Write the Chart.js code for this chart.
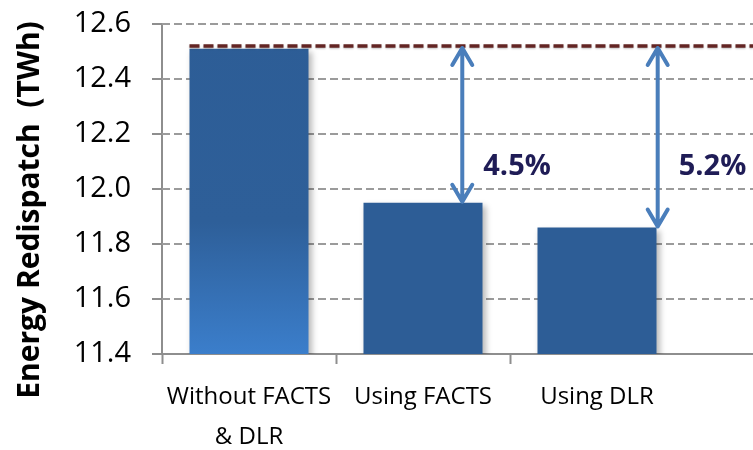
<!DOCTYPE html>
<html><head><meta charset="utf-8">
<script src="https://cdn.jsdelivr.net/npm/chart.js@4"></script>
<style>html,body{margin:0;padding:0;background:#fff;overflow:hidden}</style>
</head><body>
<canvas id="c" width="753" height="450"></canvas>
<script>
// ---- data ----
const categories = [['Without FACTS', '& DLR'], 'Using FACTS', 'Using DLR'];
const energyTWh = [12.51, 11.95, 11.86];
const referenceTWh = 12.52;
const reductionLabels = ['', '4.5%', '5.2%'];
const yMin = 11.4, yMax = 12.6, yStep = 0.2;
const yAxisTitle = 'Energy Redispatch  (TWh)';

// ---- styles ----
const GRID = '#9b9b9b', AXIS = '#8e8e8e';
const FONT = '"Open Sans", "Noto Sans", sans-serif';

const extendGrid = {
  id: 'extendGrid',
  beforeDatasetsDraw(chart) {
    const { ctx, chartArea: a, scales: { y } } = chart;
    ctx.save();
    ctx.strokeStyle = GRID; ctx.lineWidth = 2; ctx.setLineDash([7, 5]);
    y.ticks.forEach(t => {
      if (t.value <= yMin) return;
      const py = Math.round(y.getPixelForValue(t.value));
      ctx.beginPath(); ctx.moveTo(a.left, py); ctx.lineTo(chart.width, py); ctx.stroke();
    });
    ctx.setLineDash([]); ctx.strokeStyle = AXIS;
    const pb = Math.round(a.bottom);
    ctx.beginPath(); ctx.moveTo(a.left, pb); ctx.lineTo(chart.width, pb); ctx.stroke();
    ctx.restore();
  }
};

const barShadow = {
  id: 'barShadow',
  beforeDatasetDraw(chart) {
    const ctx = chart.ctx; ctx.save();
    ctx.shadowColor = 'rgba(0,0,0,0.28)'; ctx.shadowBlur = 6; ctx.shadowOffsetX = 3; ctx.shadowOffsetY = 3;
  },
  afterDatasetDraw(chart) { chart.ctx.restore(); }
};

const annotations = {
  id: 'annotations',
  afterDatasetsDraw(chart, args, opts) {
    const { ctx, scales: { y } } = chart;
    const meta = chart.getDatasetMeta(0);
    const yRef = y.getPixelForValue(referenceTWh);
    const first = meta.data[0];
    ctx.save();
    ctx.strokeStyle = '#632523'; ctx.lineWidth = 3.5; ctx.setLineDash([10, 4]);
    ctx.shadowColor = 'rgba(0,0,0,0.25)'; ctx.shadowBlur = 2; ctx.shadowOffsetY = 1;
    ctx.beginPath(); ctx.moveTo(first.x - first.width / 2, yRef); ctx.lineTo(chart.width, yRef); ctx.stroke();
    ctx.restore();
    const labelY = y.getPixelForValue(opts.labelValue);
    energyTWh.forEach((v, i) => {
      if (!reductionLabels[i]) return;
      const bar = meta.data[i];
      const ax = bar.x + opts.arrowShift[i] * bar.width;
      const top = yRef + 2, bot = bar.y - 1;
      ctx.save();
      ctx.strokeStyle = '#4a7ebb'; ctx.lineWidth = 4; ctx.lineCap = 'round'; ctx.lineJoin = 'round';
      ctx.beginPath();
      ctx.moveTo(ax, top); ctx.lineTo(ax, bot);
      ctx.moveTo(ax - 10, top + 17); ctx.lineTo(ax, top); ctx.lineTo(ax + 10, top + 17);
      ctx.moveTo(ax - 10, bot - 17); ctx.lineTo(ax, bot); ctx.lineTo(ax + 10, bot - 17);
      ctx.stroke();
      ctx.restore();
      ctx.save();
      ctx.fillStyle = '#1f1c56'; ctx.font = 'bold 29px ' + FONT;
      ctx.textAlign = 'left'; ctx.textBaseline = 'middle';
      ctx.fillText(reductionLabels[i], ax + 21, labelY);
      ctx.restore();
    });
    // y axis title
    const a = chart.chartArea;
    ctx.save();
    ctx.translate(30, (a.top + a.bottom) / 2 + 21);
    ctx.rotate(-Math.PI / 2);
    ctx.fillStyle = '#000'; ctx.font = 'bold 30px ' + FONT;
    ctx.textAlign = 'center'; ctx.textBaseline = 'middle';
    ctx.fillText(yAxisTitle, 0, 0);
    ctx.restore();
  }
};

function barColor(c) {
  const chart = c.chart, a = chart.chartArea;
  if (c.dataIndex === 0 && a) {
    const g = chart.ctx.createLinearGradient(0, a.top, 0, a.bottom);
    g.addColorStop(0, '#2d5d96');
    g.addColorStop(0.6, '#2e5f99');
    g.addColorStop(1, '#3b7ecb');
    return g;
  }
  return '#2d5d96';
}

new Chart(document.getElementById('c'), {
  type: 'bar',
  data: {
    labels: categories,
    datasets: [{ data: energyTWh, backgroundColor: barColor, borderWidth: 0,
      categoryPercentage: 0.684, barPercentage: 1 }]
  },
  options: {
    responsive: false, animation: false, devicePixelRatio: 1,
    layout: { padding: { top: 24, right: 69, left: 0, bottom: 0 } },
    plugins: {
      legend: { display: false }, tooltip: { enabled: false },
      annotations: { arrowShift: [0, 0.33, 0.51], labelValue: 12.08 }
    },
    scales: {
      x: {
        grid: { drawOnChartArea: false, drawTicks: true, tickLength: 10, tickWidth: 2,
          tickColor: c => (c.tick ? AXIS : 'rgba(0,0,0,0)') },
        border: { color: AXIS, width: 2 },
        ticks: { color: '#000', font: { family: FONT, size: 24, lineHeight: '40px' },
          padding: 13, autoSkip: false, maxRotation: 0 },
        afterFit: s => { s.height = 96; s.paddingLeft = 0; s.paddingRight = 0; }
      },
      y: {
        min: yMin, max: yMax,
        grid: { color: GRID, lineWidth: 2, tickLength: 10, tickWidth: 2, tickColor: AXIS },
        border: { color: AXIS, width: 2, dash: [7, 5] },
        ticks: { stepSize: yStep, color: '#000', padding: 21,
          font: { family: FONT, size: 29 }, callback: v => Number(v).toFixed(1) },
        afterFit: s => { s.width = 162; s.paddingTop = 0; s.paddingBottom = 0; }
      }
    }
  },
  plugins: [extendGrid, barShadow, annotations]
});
</script>
</body></html>
